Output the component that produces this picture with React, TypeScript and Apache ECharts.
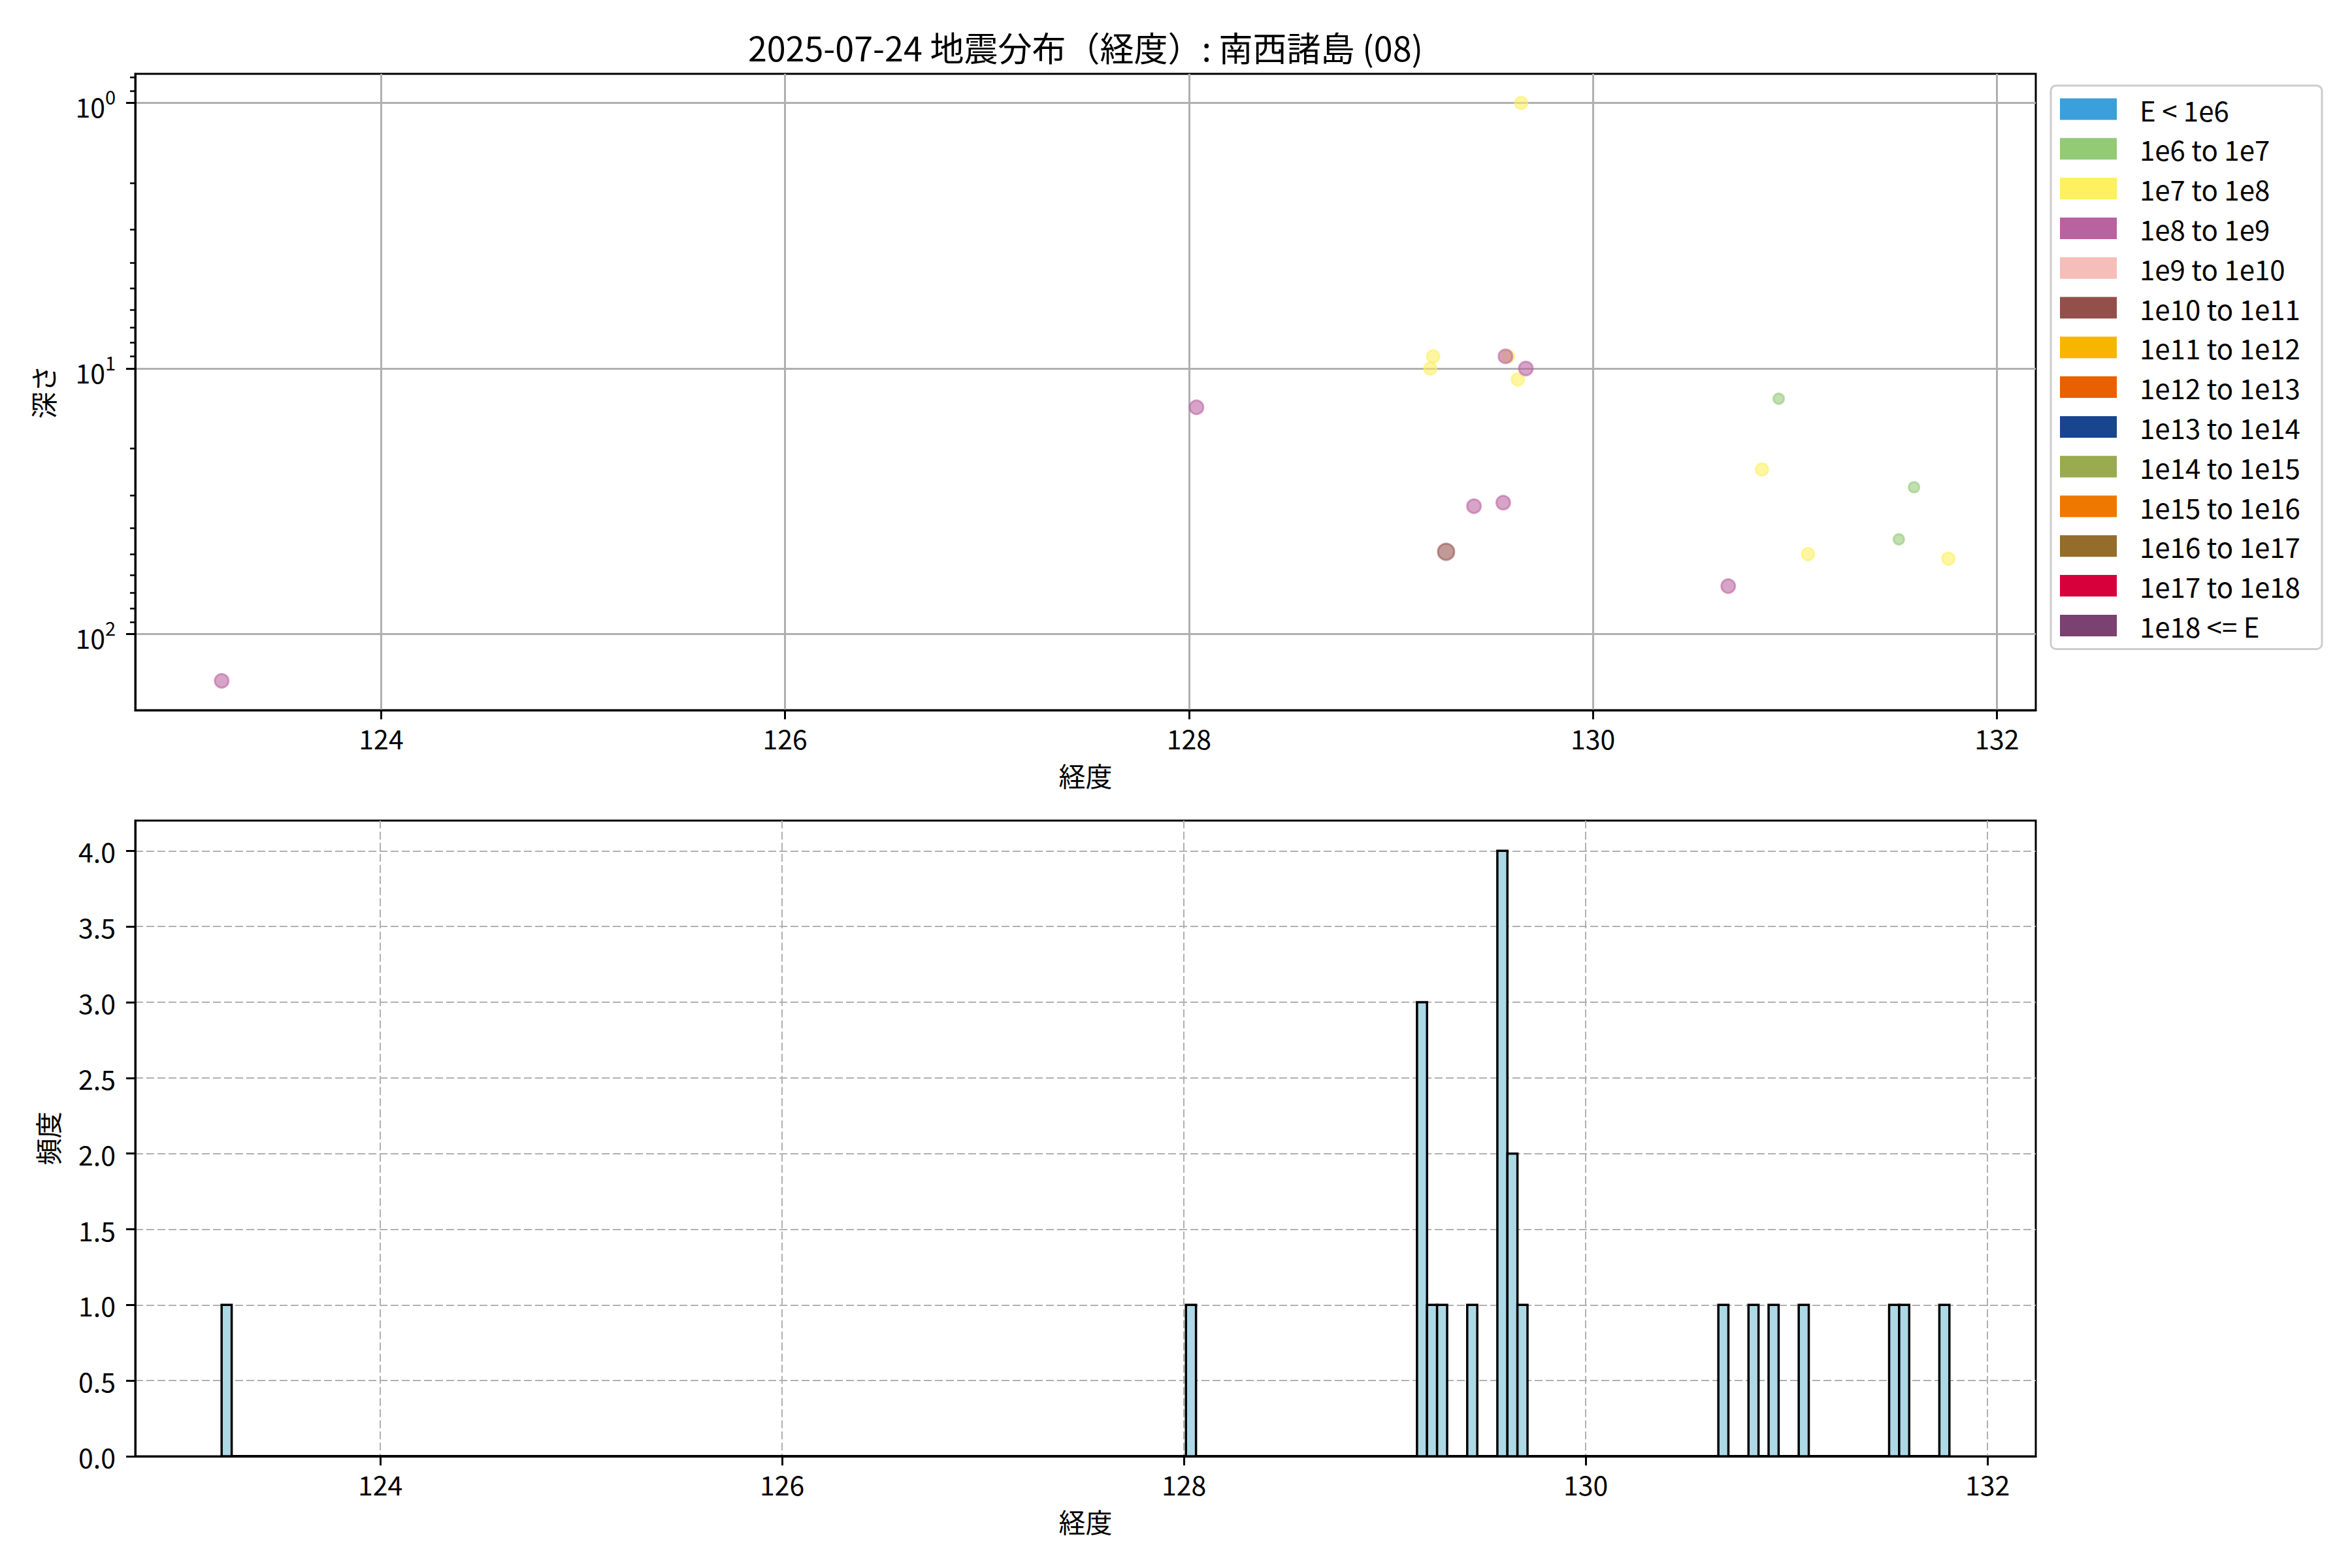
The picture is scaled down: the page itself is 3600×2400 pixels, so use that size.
import { useEffect, useRef } from 'react';
import * as echarts from 'echarts';

const FONT = '"Noto Sans CJK JP", "Noto Sans", sans-serif';
const TITLE = '2025-07-24 地震分布（経度）: 南西諸島 (08)';
const X_LABEL = '経度';
const DEPTH_LABEL = '深さ';
const FREQ_LABEL = '頻度';

const ENERGY_CLASSES = [
  'E < 1e6', '1e6 to 1e7', '1e7 to 1e8', '1e8 to 1e9', '1e9 to 1e10',
  '1e10 to 1e11', '1e11 to 1e12', '1e12 to 1e13', '1e13 to 1e14', '1e14 to 1e15',
  '1e15 to 1e16', '1e16 to 1e17', '1e17 to 1e18', '1e18 <= E',
];
const CLASS_COLORS = [
  '#3A9FDA', '#93CA76', '#FFF05F', '#B962A0', '#F5BEB9',
  '#93504A', '#F8B500', '#EA6000', '#19448E', '#9AAB4F',
  '#EE7800', '#946C2C', '#D7003A', '#7A4171',
];

// earthquakes: longitude, depth (km), energy class index, marker size
const quakeLon = [129.645, 129.209, 129.195, 129.58, 129.628, 130.837, 131.065, 131.76,
  129.567, 129.668, 128.037, 129.411, 129.556, 130.67, 123.21,
  130.92, 131.59, 131.515, 129.273];
const quakeDepth = [1, 9, 10, 9, 11, 24, 50, 52,
  9, 10, 14, 33, 32, 66, 150,
  13, 28, 44, 49];
const quakeClass = [2, 2, 2, 2, 2, 2, 2, 2,
  3, 3, 3, 3, 3, 3, 3,
  1, 1, 1, 5];
const quakeSize = [19, 19, 19, 19, 19, 19, 19, 19,
  21, 21, 21, 21, 21, 21, 21,
  16, 16, 16, 25];

// histogram (bin left edge, count)
const BIN_WIDTH = 0.05;
const HIST_START = 123.21;
const HIST_END = 131.81;
const histBinLeft = [123.21, 128.01, 129.16, 129.21, 129.26, 129.41, 129.56, 129.61, 129.66,
  130.66, 130.81, 130.91, 131.06, 131.51, 131.56, 131.76];
const histCount = [1, 1, 3, 1, 1, 1, 4, 2, 1, 1, 1, 1, 1, 1, 1, 1];

const LON_TICKS = [124, 126, 128, 130, 132];
const DEPTH_TICKS = [1, 10, 100];
const DEPTH_MINOR_TICKS = [0.8, 0.9, 2, 3, 4, 5, 6, 7, 8, 9, 20, 30, 40, 50, 60, 70, 80, 90];
const FREQ_TICKS = [0, 0.5, 1, 1.5, 2, 2.5, 3, 3.5, 4];

const SCATTER_LON_RANGE = [122.782, 132.193];
const DEPTH_RANGE = [0.777, 193.5];
const HIST_LON_RANGE = [122.78, 132.24];
const FREQ_RANGE = [0, 4.2];

function rgba(hex: string, a: number) {
  const n = parseInt(hex.slice(1), 16);
  return `rgba(${(n >> 16) & 255},${(n >> 8) & 255},${n & 255},${a})`;
}

const GRID_LEFT = 207;
const GRID_W = 2909;
const TICK_LABEL = { fontSize: 41, color: '#000', fontFamily: FONT };

export default function App() {
  const ref = useRef<HTMLDivElement>(null);
  useEffect(() => {
    if (!ref.current) return;
    const chart = echarts.init(ref.current, undefined, { renderer: 'svg' });

    const scatterSeries = ENERGY_CLASSES.map((name, ci) => ({
      type: 'scatter',
      name,
      xAxisIndex: 0,
      yAxisIndex: 0,
      symbol: 'circle',
      silent: true,
      z: 3,
      emphasis: { disabled: true },
      itemStyle: {
        color: rgba(CLASS_COLORS[ci], 0.72),
        borderColor: rgba(CLASS_COLORS[ci], 0.72),
        borderWidth: 3,
      },
      data: quakeLon
        .map((lon, i) => ({ lon, i }))
        .filter((p) => quakeClass[p.i] === ci)
        .map((p) => ({ value: [p.lon, quakeDepth[p.i]], symbolSize: quakeSize[p.i] })),
    }));

    const option: any = {
      animation: false,
      textStyle: { fontFamily: FONT },
      graphic: [
        {
          type: 'text',
          x: GRID_LEFT + GRID_W / 2,
          y: 71,
          style: {
            text: TITLE,
            fontSize: 52,
            fontFamily: FONT,
            fill: '#000',
            align: 'center',
            verticalAlign: 'middle',
          },
        },
      ],
      grid: [
        { left: GRID_LEFT, top: 113, width: GRID_W, height: 974, show: true, borderColor: '#000', borderWidth: 3, backgroundColor: 'transparent' },
        { left: GRID_LEFT, top: 1256, width: GRID_W, height: 973, show: true, borderColor: '#000', borderWidth: 3, backgroundColor: 'transparent' },
      ],
      legend: {
        orient: 'vertical',
        left: 3139,
        top: 131,
        padding: [15, 17, 15, 14],
        itemGap: 18.8,
        itemWidth: 87,
        itemHeight: 33,
        icon: 'rect',
        selectedMode: false,
        borderColor: '#cccccc',
        borderWidth: 3,
        borderRadius: 8,
        backgroundColor: 'rgba(255,255,255,0.8)',
        textStyle: { fontSize: 42, color: '#000', fontFamily: FONT, lineHeight: 42, padding: [0, 0, 0, 30], width: 262 },
        data: ENERGY_CLASSES.map((name, i) => ({
          name,
          icon: 'rect',
          itemStyle: { color: CLASS_COLORS[i], borderWidth: 0, opacity: 1 },
        })),
      },
      xAxis: [
        {
          type: 'value',
          gridIndex: 0,
          min: SCATTER_LON_RANGE[0],
          max: SCATTER_LON_RANGE[1],
          splitNumber: 5,
          name: X_LABEL,
          nameLocation: 'middle',
          nameGap: 78,
          nameTextStyle: { fontSize: 41, color: '#000', fontFamily: FONT },
          axisLine: { show: true, onZero: false, lineStyle: { color: '#000', width: 3 } },
          axisTick: { show: true, customValues: LON_TICKS, length: 14, lineStyle: { color: '#000', width: 3 } },
          axisLabel: { ...TICK_LABEL, margin: 21, customValues: LON_TICKS, formatter: (v: number) => String(v) },
          splitLine: { show: true, lineStyle: { color: '#b0b0b0', width: 3 } },
        },
        {
          type: 'value',
          gridIndex: 1,
          min: HIST_LON_RANGE[0],
          max: HIST_LON_RANGE[1],
          splitNumber: 5,
          name: X_LABEL,
          nameLocation: 'middle',
          nameGap: 78,
          nameTextStyle: { fontSize: 41, color: '#000', fontFamily: FONT },
          axisLine: { show: true, onZero: false, lineStyle: { color: '#000', width: 3 } },
          axisTick: { show: true, customValues: LON_TICKS, length: 14, lineStyle: { color: '#000', width: 3 } },
          axisLabel: { ...TICK_LABEL, margin: 21, customValues: LON_TICKS, formatter: (v: number) => String(v) },
          splitLine: { show: true, lineStyle: { color: '#b0b0b0', width: 2, type: [12, 5] } },
        },
      ],
      yAxis: [
        {
          type: 'log',
          logBase: 10,
          gridIndex: 0,
          position: 'left',
          inverse: true,
          min: DEPTH_RANGE[0],
          max: DEPTH_RANGE[1],
          name: DEPTH_LABEL,
          nameLocation: 'middle',
          nameRotate: 90,
          nameGap: 122,
          nameTextStyle: { fontSize: 41, color: '#000', fontFamily: FONT },
          axisLine: { show: true, lineStyle: { color: '#000', width: 3 } },
          axisTick: { show: true, customValues: DEPTH_TICKS, length: 14, lineStyle: { color: '#000', width: 3 } },
          axisLabel: {
            margin: 30,
            customValues: DEPTH_TICKS,
            formatter: (v: number) => `{b|10}{s|${Math.round(Math.log10(v))}}`,
            rich: {
              b: { fontSize: 41, color: '#000', fontFamily: FONT, lineHeight: 50, verticalAlign: 'bottom' },
              s: { fontSize: 29, color: '#000', fontFamily: FONT, lineHeight: 30, verticalAlign: 'top' },
            },
          },
          splitLine: { show: true, lineStyle: { color: '#b0b0b0', width: 3 } },
        },
        {
          type: 'log',
          logBase: 10,
          gridIndex: 0,
          position: 'left',
          inverse: true,
          min: DEPTH_RANGE[0],
          max: DEPTH_RANGE[1],
          axisLine: { show: false },
          axisTick: { show: true, customValues: DEPTH_MINOR_TICKS, length: 8, lineStyle: { color: '#000', width: 2.5 } },
          axisLabel: { show: false },
          splitLine: { show: false },
        },
        {
          type: 'value',
          gridIndex: 1,
          position: 'left',
          min: FREQ_RANGE[0],
          max: FREQ_RANGE[1],
          interval: 0.5,
          name: FREQ_LABEL,
          nameLocation: 'middle',
          nameRotate: 90,
          nameGap: 115,
          nameTextStyle: { fontSize: 41, color: '#000', fontFamily: FONT },
          axisLine: { show: true, lineStyle: { color: '#000', width: 3 } },
          axisTick: { show: true, customValues: FREQ_TICKS, length: 14, lineStyle: { color: '#000', width: 3 } },
          axisLabel: { ...TICK_LABEL, margin: 30, customValues: FREQ_TICKS, formatter: (v: number) => v.toFixed(1) },
          splitLine: { show: true, lineStyle: { color: '#b0b0b0', width: 2, type: [12, 5] } },
        },
      ],
      series: [
        ...scatterSeries,
        {
          type: 'custom',
          xAxisIndex: 1,
          yAxisIndex: 2,
          silent: true,
          z: 3,
          data: [[HIST_START, HIST_END, 0]],
          encode: { x: [0, 1], y: 2 },
          renderItem: (_p: any, api: any) => {
            const a = api.coord([api.value(0), api.value(2)]);
            const b = api.coord([api.value(1), api.value(2)]);
            return { type: 'line', shape: { x1: a[0], y1: a[1], x2: b[0], y2: b[1] }, style: { stroke: '#000', lineWidth: 4 } };
          },
        },
        {
          type: 'custom',
          xAxisIndex: 1,
          yAxisIndex: 2,
          silent: true,
          z: 4,
          data: histBinLeft.map((x, i) => [x, histCount[i]]),
          encode: { x: 0, y: 1 },
          renderItem: (_p: any, api: any) => {
            const x0 = api.value(0);
            const c = api.value(1);
            const a = api.coord([x0, c]);
            const b = api.coord([x0 + BIN_WIDTH, 0]);
            return {
              type: 'rect',
              shape: { x: a[0], y: a[1], width: b[0] - a[0], height: b[1] - a[1] },
              style: { fill: '#ADD8E6', stroke: '#000', lineWidth: 3.5 },
            };
          },
        },
      ],
    };

    chart.setOption(option);
    return () => chart.dispose();
  }, []);

  return (
    <div
      ref={ref}
      style={{ position: 'absolute', left: 0, top: 0, width: 3600, height: 2400, background: '#fff' }}
    />
  );
}
